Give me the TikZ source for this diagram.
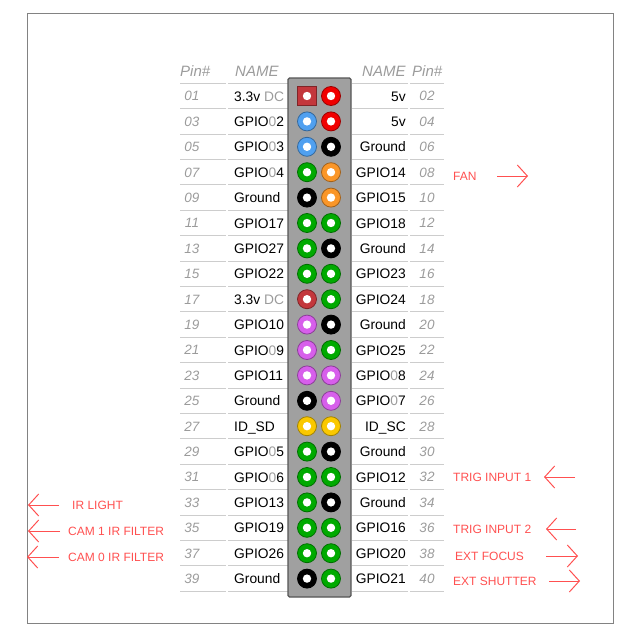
\documentclass[tikz,border=0pt]{standalone}
\usepackage{fontspec}
\setmainfont{Liberation Sans}
\usetikzlibrary{arrows.meta}

\definecolor{numgray}{RGB}{155,155,155}
\definecolor{rowline}{RGB}{205,205,205}
\definecolor{framegray}{RGB}{130,130,130}
\definecolor{boxgray}{RGB}{160,160,160}
\definecolor{boxedge}{RGB}{85,85,85}
\definecolor{notered}{RGB}{255,80,80}
\definecolor{pred}{RGB}{240,0,0}
\definecolor{pdkred}{RGB}{195,55,60}
\definecolor{pblue}{RGB}{80,160,240}
\definecolor{pblack}{RGB}{0,0,0}
\definecolor{pgreen}{RGB}{0,170,0}
\definecolor{porange}{RGB}{250,150,40}
\definecolor{ppurple}{RGB}{215,95,235}
\definecolor{pyellow}{RGB}{250,200,0}

\newcommand\gz{\textcolor{numgray}{0}}

\tikzset{
  pin/.style={shape=circle, minimum size=19pt, inner sep=0pt, fill=#1, draw=#1!65!black, line width=0.8pt,
    path picture={\fill[white] (path picture bounding box.center) circle (4.2pt);}},
  pinnum/.style={font=\fontsize{13.5}{16}\selectfont\itshape, text=numgray, inner sep=0pt, anchor=base},
  pinname/.style={font=\fontsize{13.8}{16}\selectfont, inner sep=0pt},
  colhead/.style={font=\fontsize{15}{18}\selectfont\itshape, text=numgray, inner sep=0pt, anchor=base west},
  rowsep/.style={draw=rowline, line width=1pt},
  connbox/.style={draw=boxedge, fill=boxgray, line width=1.2pt, rounded corners=1.5pt, inner sep=0pt},
  note/.style={font=\fontsize{12}{14}\selectfont, text=notered, inner sep=0pt, anchor=base west},
  notearrow/.style={draw=notered, line width=1pt, -{Straight Barb[length=10pt,width=22pt]}}
}

\begin{document}
\begin{tikzpicture}[x=1pt,y=-1pt]
\useasboundingbox (0,0) rectangle (640,637);
\draw[framegray, line width=1pt] (27,13) rectangle (613,623);

% row lines
\foreach \k in {0,...,20}{
  \draw[rowsep] (180,{83.3+25.4*\k}) -- (226,{83.3+25.4*\k});
  \draw[rowsep] (228,{83.3+25.4*\k}) -- (288,{83.3+25.4*\k});
  \draw[rowsep] (352,{83.3+25.4*\k}) -- (408,{83.3+25.4*\k});
  \draw[rowsep] (410,{83.3+25.4*\k}) -- (444,{83.3+25.4*\k});
}

% column heads
\node(headnum1)  at (180,76)[colhead] {Pin\#};
\node(headname1) at (235,76)[colhead] {NAME};
\node(headname2) at (362,76)[colhead] {NAME};
\node(headnum2)  at (412,76)[colhead] {Pin\#};

% header block
\node(conn) at (319.5,337.5)[connbox, minimum width=63pt, minimum height=519pt] {};

% pins
\foreach \lnum/\lname/\lshape/\lcol/\rname/\rcol/\rnum [count=\k from 0] in {
  01/3.3v \textcolor{numgray}{DC}/rectangle/pdkred/5v/pred/02,
  03/GPIO\gz2/circle/pblue/5v/pred/04,
  05/GPIO\gz3/circle/pblue/Ground/pblack/06,
  07/GPIO\gz4/circle/pgreen/GPIO14/porange/08,
  09/Ground/circle/pblack/GPIO15/porange/10,
  11/GPIO17/circle/pgreen/GPIO18/pgreen/12,
  13/GPIO27/circle/pgreen/Ground/pblack/14,
  15/GPIO22/circle/pgreen/GPIO23/pgreen/16,
  17/3.3v \textcolor{numgray}{DC}/circle/pdkred/GPIO24/pgreen/18,
  19/GPIO10/circle/ppurple/Ground/pblack/20,
  21/GPIO\gz9/circle/ppurple/GPIO25/pgreen/22,
  23/GPIO11/circle/ppurple/GPIO\gz8/ppurple/24,
  25/Ground/circle/pblack/GPIO\gz7/ppurple/26,
  27/ID\_SD/circle/pyellow/ID\_SC\hspace{13pt}/pyellow/28,
  29/GPIO\gz5/circle/pgreen/Ground/pblack/30,
  31/GPIO\gz6/circle/pgreen/GPIO12/pgreen/32,
  33/GPIO13/circle/pgreen/Ground/pblack/34,
  35/GPIO19/circle/pgreen/GPIO16/pgreen/36,
  37/GPIO26/circle/pgreen/GPIO20/pgreen/38,
  39/Ground/circle/pblack/GPIO21/pgreen/40}{
  \node(lnum-\k)  at (192,{96+25.4*\k+4.8})[pinnum] {\lnum};
  \node(lname-\k) at (234,{96+25.4*\k+5})[pinname, anchor=base west] {\lname};
  \node(lpin-\k)  at (307,{96+25.4*\k})[pin=\lcol, shape=\lshape] {};
  \node(rpin-\k)  at (331,{96+25.4*\k})[pin=\rcol] {};
  \node(rname-\k) at (406,{96+25.4*\k+5})[pinname, anchor=base east] {\rname};
  \node(rnum-\k)  at (427,{96+25.4*\k+4.8})[pinnum] {\rnum};
}

% notes, right side
\node(fan)      at (453,180.3)[note] {FAN};
\node(trigone)  at (453,481.3)[note] {TRIG INPUT 1};
\node(trigtwo)  at (453,533.3)[note] {TRIG INPUT 2};
\node(extfocus) at (455,560.3)[note] {EXT FOCUS};
\node(extshut)  at (453,585.3)[note] {EXT SHUTTER};
% notes, left side
\node(irlight)  at (72,509.3)[note] {IR LIGHT};
\node(camone)   at (68,535.3)[note] {CAM 1 IR FILTER};
\node(camzero)  at (68,561.3)[note] {CAM 0 IR FILTER};

\coordinate(fan-a)      at (497,176);
\coordinate(fan-b)      at (528,176);
\coordinate(trigone-a)  at (575,477);
\coordinate(trigone-b)  at (544,477);
\coordinate(trigtwo-a)  at (576,529);
\coordinate(trigtwo-b)  at (546,529);
\coordinate(extfocus-a) at (546,556);
\coordinate(extfocus-b) at (578,556);
\coordinate(extshut-a)  at (549,581);
\coordinate(extshut-b)  at (580,581);
\coordinate(irlight-a)  at (59,505);
\coordinate(irlight-b)  at (28,505);
\coordinate(camone-a)   at (60,531);
\coordinate(camone-b)   at (28,531);
\coordinate(camzero-a)  at (59,557);
\coordinate(camzero-b)  at (27,557);

\foreach \n in {fan,trigone,trigtwo,extfocus,extshut,irlight,camone,camzero}
  \draw[notearrow] (\n-a) -- (\n-b);

\end{tikzpicture}
\end{document}
